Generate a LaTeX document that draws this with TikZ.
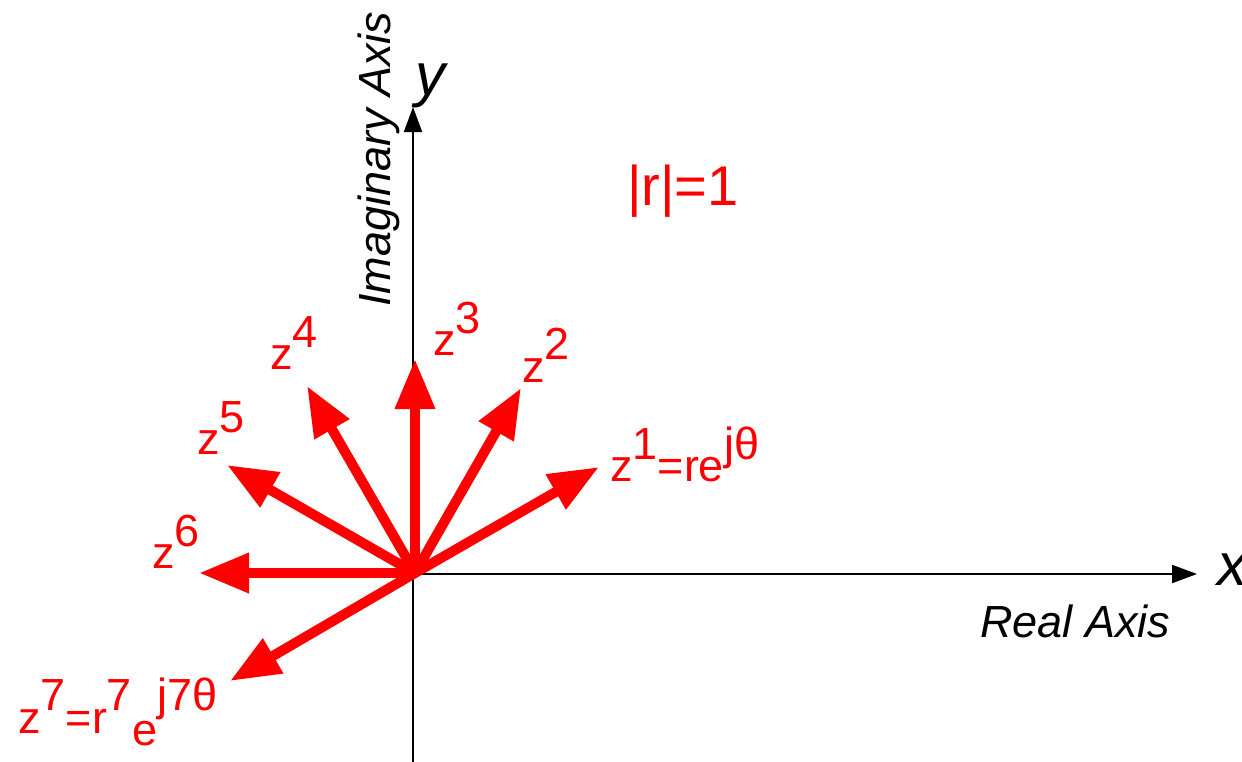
\documentclass[tikz,border=0pt]{standalone}
\usepackage{fontspec}
\setmainfont{Liberation Sans}
\usetikzlibrary{arrows.meta}
\definecolor{vred}{RGB}{255,0,0}
\newcommand\upby[2]{\raisebox{#1}{#2}}
\begin{document}
\begin{tikzpicture}[x=1pt,y=-1pt,
  axis/.style={black,line width=2pt,-{Triangle[length=25pt,width=18pt]}},
  vec/.style={vred,line width=10pt,-{Triangle[length=50pt,width=38pt]}},
  lbl/.style={vred,anchor=base west,inner sep=0pt,font=\fontsize{45}{52}\selectfont},
  axlbl/.style={anchor=base west,inner sep=0pt,font=\fontsize{45}{52}\selectfont\itshape},
  varlbl/.style={anchor=base west,inner sep=0pt,font=\fontsize{60}{70}\selectfont\itshape},
]
\useasboundingbox (0,0) rectangle (1242,761);
% axes
\coordinate (O) at (413,574);
\coordinate (ybot) at (413,770);
\coordinate (ytop) at (413,107);
\coordinate (xend) at (1197,574);
\draw[axis] (ybot) -- (ytop);
\draw[axis] (O) -- (xend);
\node[varlbl] (ylab) at (415,95) {y};
\node[varlbl] (xlab) at (1217,585) {x};
\node[axlbl] (real) at (980,637) {Real Axis};
\node[axlbl,rotate=90] (imag) at (390,307) {Imaginary Axis};
% vectors
\coordinate (R0) at (415,573);
\coordinate (e1) at (599,467);
\coordinate (e2) at (521,388);
\coordinate (e3) at (415,359);
\coordinate (e4) at (307,386);
\coordinate (e5) at (227,465);
\coordinate (e6) at (199,573);
\coordinate (e7) at (230,681);
\foreach \i in {1,...,7}{\draw[vec] (R0) -- (e\i);}
% labels
\node[lbl] (z1) at (610,481) {z\upby{22pt}{1}=re\upby{22pt}{jθ}};
\node[lbl] (z2) at (522,382) {z\upby{23pt}{2}};
\node[lbl] (z3) at (433,355) {z\upby{22pt}{3}};
\node[lbl] (z4) at (270,369) {z\upby{22pt}{4}};
\node[lbl] (z5) at (197,454) {z\upby{22pt}{5}};
\node[lbl] (z6) at (152,568) {z\upby{22pt}{6}};
\node[lbl] (z7) at (18,733) {z\upby{23pt}{7}=r\upby{23pt}{7}\upby{-12pt}{e}\upby{23pt}{j7θ}};
\node[vred,anchor=base west,inner sep=0pt,font=\fontsize{56}{64}\selectfont] (mod) at (627,205) {|r|=1};
\end{tikzpicture}
\end{document}
